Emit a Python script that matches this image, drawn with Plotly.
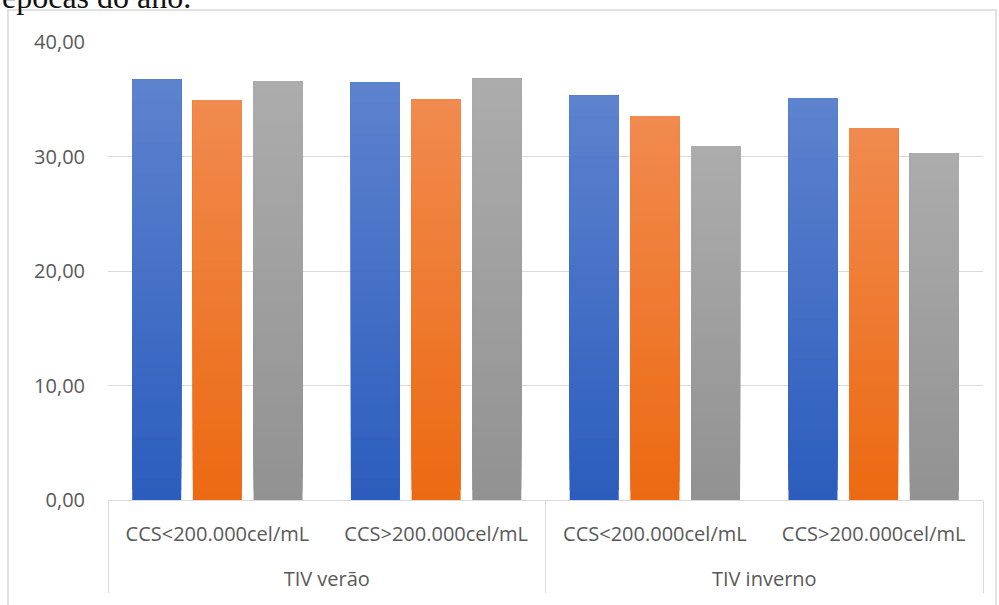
import plotly.graph_objects as go

# Grouped values: season (outer level) x somatic cell count class (inner level)
seasons = ["TIV verão", "TIV verão", "TIV inverno", "TIV inverno"]
ccs_classes = ["CCS<200.000cel/mL", "CCS>200.000cel/mL",
               "CCS<200.000cel/mL", "CCS>200.000cel/mL"]

series_a = [36.7, 36.5, 35.3, 35.1]
series_b = [34.9, 35.0, 33.5, 32.5]
series_c = [36.6, 36.8, 30.9, 30.3]

y_ticks = [0, 10, 20, 30, 40]
y_tick_text = ["0,00", "10,00", "20,00", "30,00", "40,00"]

# (bottom colour, top colour) for a vertical gradient fill on each series
series_styles = [
    (series_a, (44, 93, 190), (93, 130, 206)),
    (series_b, (236, 106, 18), (241, 138, 78)),
    (series_c, (146, 146, 146), (172, 172, 172)),
]

N_STEPS = 40


def mix(c0, c1, t):
    return "rgb(%d,%d,%d)" % tuple(round(a + (b - a) * t) for a, b in zip(c0, c1))


# inner labels get an empty tall second line so the outer level sits lower
inner_labels = [c + "<br><span style='font-size:42px'>\u00a0</span>" for c in ccs_classes]

fig = go.Figure()
for idx, (vals, c_bottom, c_top) in enumerate(series_styles):
    # each layer runs from its own start up to the bar's top, so later
    # (lighter) layers cover the upper part and no seams appear
    for k in range(N_STEPS):
        t = k / (N_STEPS - 1)
        fig.add_trace(go.Bar(
            x=[seasons, inner_labels],
            y=[v * (1 - k / N_STEPS) for v in vals],
            base=[v * k / N_STEPS for v in vals],
            offsetgroup=str(idx),
            marker=dict(color=mix(c_bottom, c_top, t), line=dict(width=0)),
            showlegend=False,
            hoverinfo="skip",
        ))

L, R, T, B = 108, 16, 42, 105
W, H = 999, 605
pw, ph = W - L - R, H - T - B

fig.update_layout(
    width=W, height=H,
    margin=dict(l=L, r=R, t=T, b=B, autoexpand=False),
    paper_bgcolor="white",
    plot_bgcolor="white",
    barmode="group",
    bargap=0.168,
    bargroupgap=0.192,
    font=dict(family="Open Sans", size=20, color="#595959"),
    xaxis=dict(
        type="multicategory",
        automargin=False,
        showgrid=False,
        showline=True,
        linecolor="#d9d9d9",
        linewidth=1,
        ticks="",
        showdividers=True,
        dividercolor="#d9d9d9",
        dividerwidth=1,
        ticklabelstandoff=16,
        tickfont=dict(family="Open Sans", size=20, color="#595959"),
    ),
    yaxis=dict(
        range=[0, 40],
        automargin=False,
        tickvals=y_ticks,
        ticktext=y_tick_text,
        showgrid=True,
        gridcolor="#d9d9d9",
        gridwidth=1,
        zeroline=False,
        showline=False,
        ticks="",
        ticklabelstandoff=22,
        tickfont=dict(family="Open Sans", size=20, color="#595959"),
    ),
    shapes=[
        # outer chart frame
        dict(type="rect", xref="paper", yref="paper",
             x0=(8 - L) / pw, x1=(996 - L) / pw,
             y0=-(B + 20) / ph, y1=1 + (T - 10) / ph,
             line=dict(color="#d9d9d9", width=1.5), layer="below"),
    ],
    annotations=[
        dict(text="épocas do ano.", xref="paper", yref="paper",
             x=(0 - L) / pw, y=1 + (T - 17) / ph,
             xanchor="left", yanchor="bottom", showarrow=False,
             font=dict(family="Liberation Serif", size=32, color="#111111")),
    ],
)

fig.write_html("out.html")
